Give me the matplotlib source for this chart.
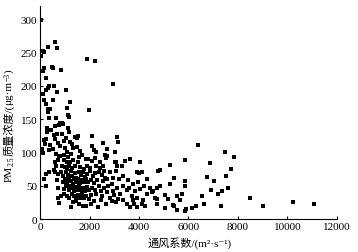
import matplotlib
matplotlib.use("Agg")
import matplotlib.pyplot as plt

# ventilation coefficient (m2/s) and PM2.5 (ug/m3)
points = [
    # upper left column
    (40, 298), (135, 252), (175, 251), (40, 245), (335, 258), (620, 266), (700, 257),
    (175, 226), (135, 222), (470, 228), (540, 226), (835, 223), (230, 212), (335, 196),
    (240, 194), (565, 199), (675, 191), (1050, 194), (110, 187), (150, 178), (510, 179),
    (540, 178), (240, 173), (1210, 176), (335, 165), (405, 165), (335, 160), (1080, 167),
    (1120, 156), (1170, 153), (375, 152), (645, 152), (1910, 240), (2220, 237),
    (2935, 203), (1990, 164), (375, 200),
    # 100 - 150
    (780, 141), (915, 143), (270, 137), (810, 144), (900, 144), (605, 140), (270, 130),
    (1120, 136), (1170, 130), (875, 128), (1415, 123), (1510, 121), (1550, 124),
    (2090, 125), (2560, 114), (3100, 123), (3160, 115), (160, 118), (405, 111),
    (740, 114), (810, 110), (1010, 107), (1080, 100), (135, 99), (540, 105), (810, 95),
    (2260, 100), (2190, 103), (2695, 105), (1200, 116), (1050, 121), (960, 117),
    (550, 126), (460, 134), (700, 127), (1290, 112), (1500, 108), (1620, 102),
    (350, 103), (620, 120), (240, 120), (215, 113), (80, 105), (1320, 107), (2100, 110),
    # dense cluster
    (640, 97), (780, 95), (950, 96), (1130, 93), (1250, 97), (1560, 93), (1700, 96),
    (600, 86), (720, 88), (960, 89), (1100, 85), (1210, 86), (1350, 88),
    (1550, 86), (1860, 90), (1950, 90), (2100, 87), (2230, 92),
    (660, 79), (880, 80), (990, 78), (1080, 75), (1180, 80), (1300, 77),
    (1420, 79), (1630, 78), (1760, 75), (1890, 80), (2020, 77), (2280, 79),
    (620, 70), (730, 67), (850, 71), (940, 65), (1040, 70), (1130, 66), (1230, 72),
    (1310, 64), (1400, 69), (1470, 62), (1560, 71), (1640, 66), (1720, 70), (1800, 63),
    (1900, 68), (2000, 72), (2120, 65), (2240, 69),
    (680, 58), (920, 56), (1010, 60), (1090, 55), (1170, 61), (1250, 57),
    (1330, 53), (1380, 60), (1450, 56), (1530, 60), (1600, 54), (1680, 59), (1760, 55),
    (1840, 60), (1950, 56), (2060, 59), (2180, 54), (2290, 58),
    (720, 47), (960, 45), (1060, 49), (1150, 44), (1220, 50), (1300, 46),
    (1370, 42), (1440, 48), (1510, 44), (1580, 49), (1650, 43), (1720, 47), (1800, 42),
    (1880, 48), (1970, 44), (2080, 47), (2200, 43),
    (715, 32), (850, 34), (980, 37), (1100, 35), (1185, 32), (1280, 38), (1360, 34),
    (1455, 30), (1540, 36), (1620, 32), (1700, 37), (1780, 31), (1870, 35), (1960, 30),
    (2070, 36), (2260, 38),
    (760, 24), (1250, 18), (1350, 26), (1455, 27), (1590, 22), (1725, 20),
    (1860, 19), (2050, 22), (2180, 27), (2360, 18),
    (240, 67), (175, 60), (240, 50), (375, 70), (580, 74),
    # 2300 - 4500
    (2430, 85), (2425, 77), (2560, 80), (2630, 96), (2665, 91), (2695, 95), (3030, 100),
    (3030, 86), (3070, 86), (3100, 80), (3300, 79), (3640, 90), (3450, 87), (4040, 86),
    (3070, 72), (3905, 70), (4010, 69), (4110, 70), (4310, 60), (2400, 70), (2500, 66),
    (2600, 72), (2700, 60), (2830, 70), (2630, 62), (2560, 57), (2900, 52), (3100, 47),
    (3370, 50), (3500, 43), (3700, 35), (3770, 28), (3800, 22), (3905, 32), (4110, 22),
    (4175, 28), (4310, 37), (4040, 45), (3970, 55), (3500, 22), (3370, 28), (3250, 38),
    (3150, 30), (2830, 32), (2900, 27), (2400, 50), (2450, 42), (2520, 35), (2600, 46),
    (2700, 40), (2750, 50), (2950, 42), (3000, 36), (3200, 60), (3350, 65), (3550, 58),
    (3600, 47), (3750, 52), (3850, 42), (4200, 50), (4450, 46), (4240, 20), (2480, 28),
    (2650, 22), (3050, 25), (3650, 18), (3900, 18), (2950, 62),
    # right side
    (4850, 74), (4750, 72), (4510, 40), (4560, 42), (4650, 32), (4715, 30), (4715, 47),
    (4850, 49), (5050, 36), (5160, 30), (5250, 52), (5250, 81), (5415, 61), (5550, 34),
    (5725, 38), (5860, 88), (5860, 57), (5860, 50), (4740, 23), (5050, 16), (5360, 21),
    (5415, 19), (5520, 14), (5860, 12), (5900, 15), (6130, 17), (6300, 19), (6400, 111),
    (7475, 100), (7840, 93), (6880, 84), (7700, 75), (6735, 63), (7500, 64), (7030, 57),
    (7610, 46), (6895, 44), (7355, 42), (7180, 37), (6560, 34), (8485, 31), (5655, 28),
    (6640, 23), (7315, 19), (9025, 20), (10210, 25), (11070, 22),
]
vent = [p[0] for p in points]
pm25 = [p[1] for p in points]

x_ticks = [0, 2000, 4000, 6000, 8000, 10000, 12000]
y_ticks = [0, 50, 100, 150, 200, 250, 300]

fam = ['Liberation Serif', 'Noto Sans CJK SC', 'DejaVu Sans']
fs = 8

fig = plt.figure(figsize=(3.58, 2.53), dpi=100)
ax = fig.add_axes([0.112, 0.130, 0.829, 0.843])

ax.scatter(vent, pm25, marker='s', s=6.5, color='black', linewidths=0)

ax.set_xlim(0, 12000)
ax.set_ylim(0, 320)
ax.set_xticks(x_ticks)
ax.set_yticks(y_ticks)
ax.spines['top'].set_visible(False)
ax.spines['right'].set_visible(False)
for s in ['left', 'bottom']:
    ax.spines[s].set_linewidth(0.8)
ax.tick_params(direction='in', length=2.5, width=0.8, pad=2, labelsize=fs)
for lab in ax.get_xticklabels() + ax.get_yticklabels():
    lab.set_family(fam)

# x label
fig.text(190 / 358, 0.04, '通风系数/(m²·s⁻¹)', ha='center', va='center',
         fontsize=fs, family=fam)

# y label built from pieces so the sub/superscripts work with CJK text
t0 = fig.text(0.025, 0.281, 'PM', rotation=90, ha='center', va='bottom',
              fontsize=fs, family=fam)
t1 = fig.add_artist(plt.Annotation('2.5', xy=(1, 1), xycoords=t0, xytext=(1.3, 0),
                                   textcoords='offset points', rotation=90,
                                   ha='right', va='bottom', fontsize=5.5, family=fam))
t2 = fig.add_artist(plt.Annotation('质量浓度/(', xy=(0.5, 1), xycoords=(t0, t1),
                                   rotation=90, ha='center', va='bottom',
                                   fontsize=fs, family=fam))
t3 = fig.add_artist(plt.Annotation('μg·m', xy=(0.5, 1), xycoords=(t0, t2),
                                   rotation=90, ha='center', va='bottom',
                                   fontsize=fs, family=fam))
t4 = fig.add_artist(plt.Annotation('−3', xy=(0, 1), xycoords=t3, xytext=(-0.8, 0),
                                   textcoords='offset points', rotation=90,
                                   ha='left', va='bottom', fontsize=5.5, family=fam))
fig.add_artist(plt.Annotation(')', xy=(0.5, 1), xycoords=(t0, t4),
                              rotation=90, ha='center', va='bottom',
                              fontsize=fs, family=fam))

fig.savefig('out.png', dpi=100)
